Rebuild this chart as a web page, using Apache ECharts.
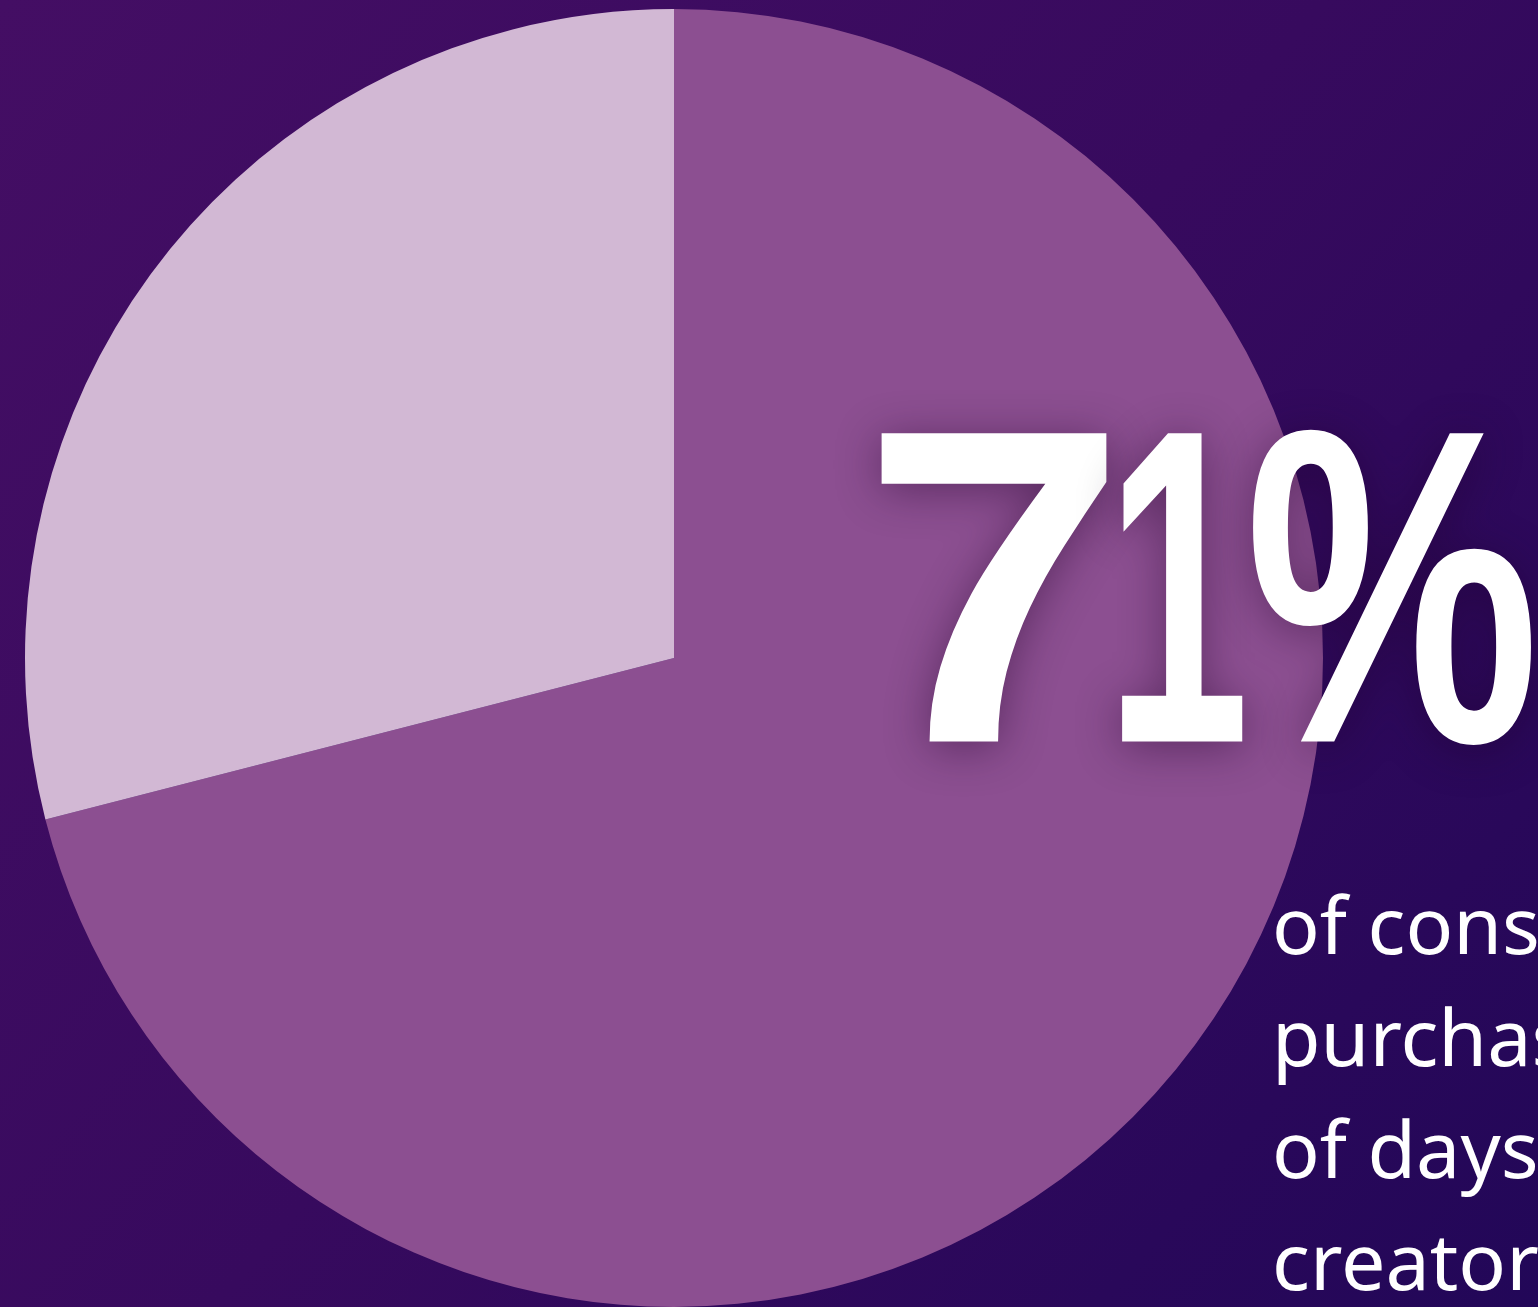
<!DOCTYPE html>
<html>
<head>
<meta charset="utf-8">
<script src="https://cdn.jsdelivr.net/npm/echarts@6/dist/echarts.min.js"></script>
<style>
    html, body { margin: 0; padding: 0; overflow: hidden; }
    #chart { width: 1538px; height: 1307px; }
</style>
</head>
<body>
<div id="chart"></div>
<script>
var shares = ["consumers who purchase", "others"];
var shareValues = [71, 29];
var sliceColors = ["#8c4f91", "#d2b8d4"];
var bigNumber = ["7", "1", "%"];
var captionLines = ["of consumers make a", "purchase within a couple", "of days of seeing a", "creator's content"];

var dom = document.getElementById("chart");
var myChart = echarts.init(dom);

var pieData = shares.map(function (name, i) {
    return {
        name: name,
        value: shareValues[i],
        itemStyle: { color: sliceColors[i] }
    };
});

// big "71%": each glyph stretched into its own box, tight like the poster
var bigFont = "bold 440px 'Liberation Sans', Arial, sans-serif";
var glyphBox = [[876, 1108], [1122, 1243], [1250, 1535]];
var bigTop = 394;
var ctx = document.createElement("canvas").getContext("2d");
ctx.font = bigFont;
var graphics = [];
for (var i = 0; i < bigNumber.length; i++) {
    var m = ctx.measureText(bigNumber[i]);
    var inkW = m.actualBoundingBoxLeft + m.actualBoundingBoxRight;
    var sx = (glyphBox[i][1] - glyphBox[i][0]) / inkW;
    var sy = 310 / m.actualBoundingBoxAscent * 1.016;
    graphics.push({
        type: "text",
        x: glyphBox[i][0] + m.actualBoundingBoxLeft * sx,
        y: bigTop,
        scaleX: sx,
        scaleY: sy,
        z: 10,
        style: {
            text: bigNumber[i],
            fill: "#ffffff",
            font: bigFont,
            textShadowColor: "rgba(30,0,40,0.45)",
            textShadowBlur: 45,
            textShadowOffsetY: 6
        }
    });
}
for (var j = 0; j < captionLines.length; j++) {
    graphics.push({
        type: "text",
        x: 1272,
        y: 892 + j * 112,
        z: 10,
        style: {
            text: captionLines[j],
            fill: "#ffffff",
            font: "79px 'Noto Sans', 'Open Sans', sans-serif"
        }
    });
}

var option = {
    animation: false,
    backgroundColor: {
        type: "linear",
        x: 0, y: 0, x2: 1, y2: 1,
        colorStops: [
            { offset: 0, color: "#440e64" },
            { offset: 0.5, color: "#370a5e" },
            { offset: 1, color: "#220758" }
        ]
    },
    series: [
        {
            type: "pie",
            center: [674, 658],
            radius: [0, 649],
            startAngle: 90,
            clockwise: true,
            silent: true,
            label: { show: false },
            labelLine: { show: false },
            itemStyle: { borderWidth: 0 },
            data: pieData
        }
    ],
    graphic: graphics
};
myChart.setOption(option);
</script>
</body>
</html>
